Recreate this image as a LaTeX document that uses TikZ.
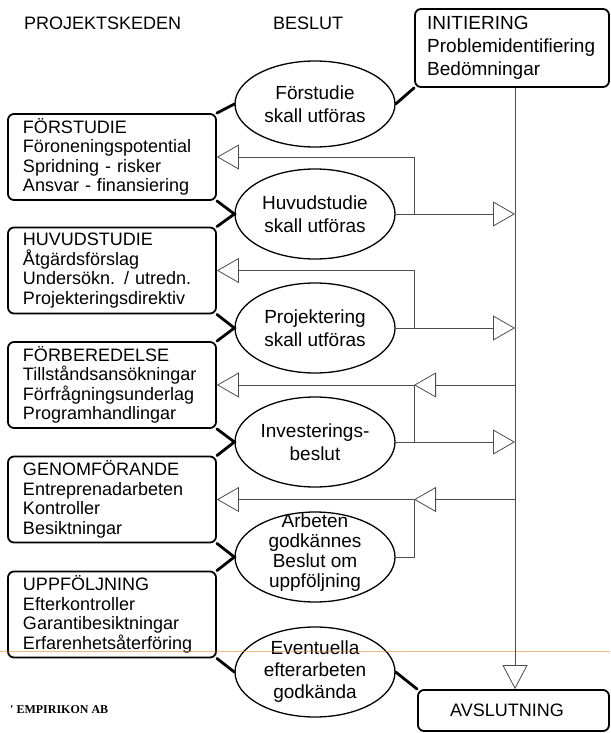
\documentclass[tikz,border=0pt]{standalone}
\usepackage{fontspec}
\setmainfont{Liberation Sans}
\newfontfamily\cpyfont{Liberation Serif}
\usetikzlibrary{arrows.meta,shapes.geometric,calc}
\begin{document}
\begin{tikzpicture}[x=1pt,y=-1pt,
  lbox/.style={draw,line width=1.8pt,rounded corners=6pt,minimum width=208pt,minimum height=86pt,
    text width=178pt,inner xsep=15pt,inner ysep=0pt,align=left,
    font=\fontsize{18}{19.5}\selectfont},
  rbox/.style={draw,line width=1.8pt,rounded corners=6pt,inner sep=0pt},
  ell/.style={draw,ellipse,line width=1.3pt,minimum width=160pt,minimum height=90pt,inner sep=0pt},
  etxt/.style={align=center,inner sep=0pt,font=\fontsize{19}{23}\selectfont},
  hdr/.style={inner sep=0pt,anchor=base west,font=\fontsize{18}{20}\selectfont},
  conn/.style={line width=2.8pt,line cap=round},
  fb/.style={line width=0.8pt,draw=black!70},
  tri/.tip={Triangle[open,length=22pt,width=25pt,line width=0.8pt]},
]
\useasboundingbox (0,0) rectangle (610,733);

% headers
\node[hdr] (h1) at (24,30) {PROJEKTSKEDEN};
\node[hdr] (h2) at (273,30) {BESLUT};

% right boxes
\node[rbox,minimum width=194pt,minimum height=78pt] (init) at (512,48) {};
\node[inner sep=0pt,align=left,anchor=west,font=\fontsize{19}{23}\selectfont] (initt) at (427,48)
  {INITIERING\\Problemidentifiering\\Bedömningar};
\node[rbox,minimum width=191pt,minimum height=41pt] (avs) at (513.5,710.5) {};
\node[inner sep=0pt,font=\fontsize{18}{20}\selectfont] (avst) at (507,710.5) {AVSLUTNING};

% left boxes
\node[lbox] (b1) at (112,157) {FÖRSTUDIE\\Föroneningspotential\\Spridning - risker\\Ansvar - finansiering};
\node[lbox] (b2) at (112,270.5) {HUVUDSTUDIE\\Åtgärdsförslag\\Undersökn. / utredn.\\Projekteringsdirektiv};
\node[lbox] (b3) at (112,385) {FÖRBEREDELSE\\Tillståndsansökningar\\Förfrågningsunderlag\\Programhandlingar};
\node[lbox] (b4) at (112,499.5) {GENOMFÖRANDE\\Entreprenadarbeten\\Kontroller\\Besiktningar};
\node[lbox] (b5) at (112,614.5) {UPPFÖLJNING\\Efterkontroller\\Garantibesiktningar\\Erfarenhetsåterföring};

% ellipses
\node[ell,minimum height=86pt] (e1) at (315,104) {};
\node[ell] (e2) at (315,214) {};
\node[ell] (e3) at (315,328) {};
\node[ell] (e4) at (315,442) {};
\node[ell] (e5) at (315,557) {};
\node[ell] (e6) at (315,672) {};
\node[etxt] (t1) at (315,104) {Förstudie\\skall utföras};
\node[etxt] (t2) at (315,214) {Huvudstudie\\skall utföras};
\node[etxt] (t3) at (315,328) {Projektering\\skall utföras};
\node[etxt] (t4) at (315,442) {Investerings-\\beslut};
\node[etxt,font=\fontsize{19}{20}\selectfont] (t5) at (315,553) {Arbeten\\godkännes\\Beslut om\\uppföljning};
\node[etxt,font=\fontsize{19}{22}\selectfont] (t6) at (315,672) {Eventuella\\efterarbeten\\godkända};

% copyright
\node[inner sep=0pt,anchor=base west,font=\cpyfont\bfseries\fontsize{12}{14}\selectfont] (cp) at (10,713) {' EMPIRIKON AB};

% scan line
\draw[orange!60!brown,line width=0.8pt,opacity=0.55] (0,651) -- (610,651);

% coordinates for vertical lines
\coordinate (mx) at (515,0);
\coordinate (jx) at (414,0);

% thick connectors
\draw[conn] (init.south west) -- (e1.east);
\draw[conn] (e1.west) -- (b1.north east);
\draw[conn] (b1.south east) -- (e2.west) -- (b2.north east);
\draw[conn] (b2.south east) -- (e3.west) -- (b3.north east);
\draw[conn] (b3.south east) -- (e4.west) -- (b4.north east);
\draw[conn] (b4.south east) -- (e5.west) -- (b5.north east);
\draw[conn] (b5.south east) -- (e6.west);
\draw[conn] (e6.east) -- (avs.north west);

% main vertical line
\draw[fb,-{Triangle[open,length=24pt,width=25pt,line width=0.8pt]}] (init.south -| mx) -- (avs.north -| mx);

% feedback / decision lines
\draw[fb,-tri] (e2.east) -- (e2.east -| mx);
\draw[fb,-tri] (e2.east -| jx) |- (b1.east);
\draw[fb,-tri] (e3.east) -- (e3.east -| mx);
\draw[fb,-tri] (e3.east -| jx) |- (b2.east);
\draw[fb,-tri] (b3.east -| mx) -- (b3.east -| jx);
\draw[fb,-tri] (b3.east -| jx) -- (b3.east);
\draw[fb] (e4.east -| jx) -- (b3.east -| jx);
\draw[fb,-tri] (e4.east) -- (e4.east -| mx);
\draw[fb,-tri] (b4.east -| mx) -- (b4.east -| jx);
\draw[fb,-tri] (b4.east -| jx) -- (b4.east);
\draw[fb] (e5.east) -- (e5.east -| jx) -- (b4.east -| jx);
\end{tikzpicture}
\end{document}
